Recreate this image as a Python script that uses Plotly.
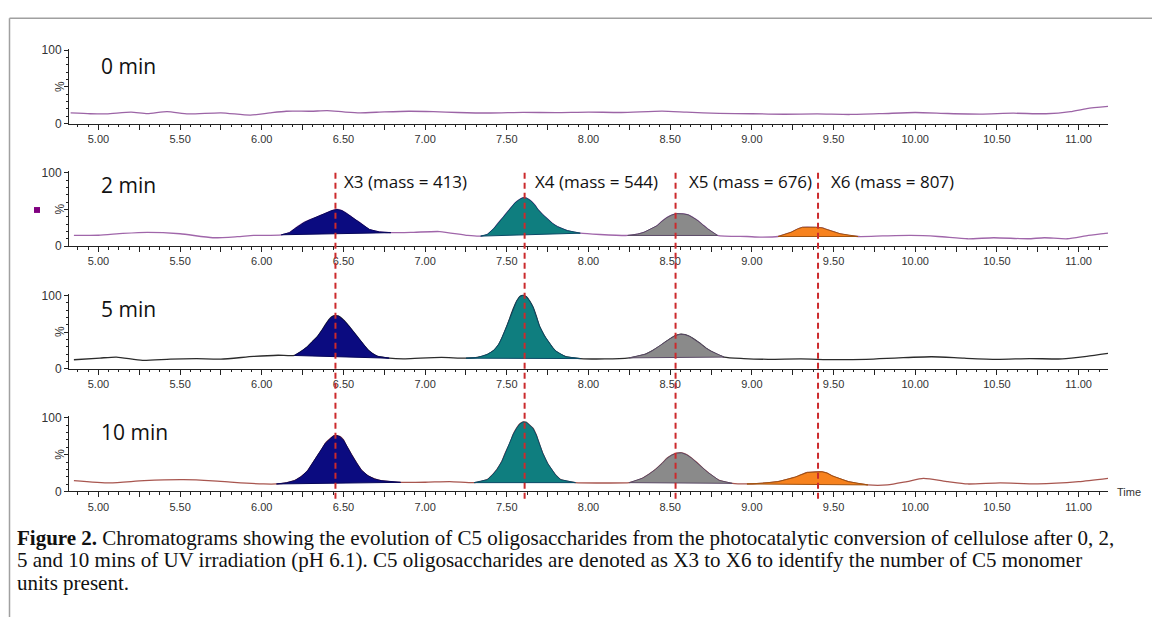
import numpy as np
import plotly.graph_objects as go

W, H = 1152, 624

# ---------------- data ----------------
panel_labels = ["0 min", "2 min", "5 min", "10 min"]
line_colors = ["#9c64a6", "#a066aa", "#2b2b2b", "#a8564f"]

t0 = [4.83, 4.95, 5.05, 5.2, 5.3, 5.42, 5.55, 5.75, 5.93, 6.05, 6.15, 6.3, 6.4, 6.5, 6.6,
      6.75, 6.9, 7.05, 7.2, 7.4, 7.6, 7.8, 8.0, 8.2, 8.45, 8.6, 8.8, 9.0, 9.2, 9.4, 9.6,
      9.8, 10.0, 10.2, 10.4, 10.6, 10.8, 10.95, 11.05, 11.18]
v0 = [14.7, 13.5, 13.3, 15.6, 13.7, 16.4, 13.3, 14.7, 11.6, 14.7, 16.9, 16.9, 17.7, 16.0, 14.7,
      16.0, 16.9, 16.4, 15.2, 14.5, 15.4, 15.0, 15.8, 15.2, 17.0, 15.6, 14.0, 13.5, 12.8, 13.2, 12.5,
      13.7, 15.2, 13.8, 13.0, 14.2, 13.5, 16.4, 20.5, 23.5]

t2 = [4.85, 5.0, 5.15, 5.3, 5.5, 5.7, 5.85, 5.95, 6.12, 6.17, 6.2, 6.26, 6.3, 6.34, 6.4, 6.43,
      6.46, 6.49, 6.52, 6.54, 6.57, 6.6, 6.63, 6.66, 6.72, 6.79, 6.93, 7.09, 7.26, 7.34, 7.38,
      7.42, 7.45, 7.48, 7.50, 7.53, 7.55, 7.58, 7.60, 7.62, 7.645, 7.67, 7.69, 7.72, 7.75,
      7.78, 7.81, 7.87, 7.95, 8.07, 8.24, 8.3, 8.34, 8.38, 8.42, 8.45, 8.48, 8.51, 8.54, 8.58,
      8.61, 8.64, 8.67, 8.70, 8.73, 8.79, 8.97, 9.05, 9.16, 9.2, 9.24, 9.28, 9.31, 9.39, 9.43,
      9.46, 9.5, 9.54, 9.65, 9.8, 9.97, 10.14, 10.32, 10.48, 10.69, 10.79, 10.93, 11.06, 11.18]
v2 = [14.7, 15.0, 17.5, 19.0, 17.0, 11.6, 13.0, 14.7, 15.6, 18.5, 23.6, 32.4, 36.5, 40.0, 45.8, 48.5,
      50.0, 48.5, 44.5, 41.3, 36.5, 32.4, 27.0, 22.7, 19.5, 18.5, 19.0, 20.0, 14.7, 13.8, 16.0,
      24.0, 32.4, 40.0, 45.8, 53.5, 59.0, 64.0, 66.0, 65.5, 62.2, 56.5, 50.2, 43.0, 37.0,
      31.0, 26.7, 21.3, 17.8, 16.0, 14.7, 16.5, 19.0, 23.0, 28.0, 34.0, 39.0, 42.5, 44.4, 44.0,
      42.7, 39.0, 34.7, 29.0, 23.6, 14.7, 13.3, 12.4, 13.3, 16.0, 19.0, 23.5, 25.8, 25.8, 25.0,
      22.7, 20.0, 17.0, 13.3, 14.0, 14.7, 13.3, 10.2, 11.6, 10.2, 11.6, 10.2, 14.7, 17.8]

t5 = [4.85, 5.01, 5.11, 5.27, 5.44, 5.6, 5.75, 5.95, 6.1, 6.2, 6.24, 6.28, 6.31, 6.34, 6.37,
      6.39, 6.41, 6.43, 6.45, 6.47, 6.50, 6.53, 6.56, 6.59, 6.62, 6.65, 6.68, 6.71, 6.78, 6.87,
      6.97, 7.1, 7.25, 7.32, 7.38, 7.42, 7.45, 7.47, 7.50, 7.52, 7.54, 7.56, 7.58, 7.60, 7.62,
      7.64, 7.66, 7.68, 7.70, 7.73, 7.75, 7.78, 7.80, 7.86, 7.95, 8.1, 8.25, 8.3, 8.35, 8.39,
      8.43, 8.47, 8.5, 8.53, 8.56, 8.59, 8.62, 8.65, 8.68, 8.72, 8.75, 8.83, 8.95, 9.1, 9.3,
      9.5, 9.7, 9.9, 10.1, 10.3, 10.5, 10.7, 10.9, 11.05, 11.18]
v5 = [12.4, 14.7, 16.0, 11.6, 13.3, 13.8, 13.3, 16.9, 18.5, 18.2, 23.5, 30.2, 37.0, 43.6, 53.0,
      60.0, 66.5, 71.0, 72.5, 71.6, 66.5, 59.0, 50.5, 42.2, 33.5, 25.8, 20.5, 16.9, 14.5, 13.7,
      14.7, 15.5, 14.5, 15.5, 19.5, 25.0, 33.0, 42.0, 58.0, 70.0, 82.0, 92.0, 98.5, 100.0, 98.0,
      92.0, 84.0, 72.0, 58.0, 45.0, 38.0, 29.0, 24.0, 16.5, 14.0, 13.5, 15.0, 17.0, 20.0, 24.5,
      30.0, 36.5, 41.0, 45.0, 47.0, 46.5, 44.0, 40.0, 35.0, 28.0, 24.0, 16.0, 14.0, 13.0, 13.5,
      12.5, 13.0, 15.0, 16.5, 14.5, 13.0, 14.0, 13.5, 17.0, 21.0]

t10 = [4.85, 5.07, 5.28, 5.52, 5.7, 5.83, 6.01, 6.09, 6.15, 6.2, 6.24, 6.28, 6.31, 6.34, 6.37,
       6.39, 6.42, 6.44, 6.46, 6.48, 6.50, 6.52, 6.55, 6.58, 6.61, 6.65, 6.69, 6.73, 6.85, 7.0,
       7.15, 7.3, 7.34, 7.38, 7.41, 7.44, 7.47, 7.49, 7.52, 7.54, 7.56, 7.58, 7.60, 7.62, 7.64,
       7.66, 7.68, 7.70, 7.72, 7.75, 7.77, 7.80, 7.83, 7.92, 8.1, 8.25, 8.29, 8.33, 8.37, 8.41,
       8.45, 8.48, 8.51, 8.54, 8.57, 8.6, 8.63, 8.66, 8.7, 8.73, 8.8, 8.88, 8.97, 9.05, 9.16,
       9.21, 9.26, 9.3, 9.34, 9.43, 9.46, 9.49, 9.54, 9.59, 9.71, 9.83, 9.95, 10.05, 10.2,
       10.32, 10.52, 10.75, 11.0, 11.18]
v10 = [14.7, 11.6, 14.7, 16.0, 14.5, 12.4, 10.2, 10.2, 11.8, 14.7, 20.0, 28.0, 38.0, 48.0, 58.0,
       65.8, 72.0, 75.6, 76.0, 74.5, 70.0, 61.3, 50.0, 39.0, 29.0, 21.3, 17.0, 14.7, 12.4, 12.5,
       13.5, 12.0, 13.5, 16.0, 22.0, 30.0, 41.0, 52.0, 66.0, 78.0, 86.0, 92.0, 94.5, 94.0, 90.0,
       86.0, 77.0, 64.0, 52.0, 38.0, 31.0, 22.0, 16.0, 12.0, 11.5, 12.0, 14.5, 18.0, 23.5, 30.0,
       38.0, 45.0, 49.5, 52.0, 52.5, 50.0, 45.5, 40.0, 31.5, 26.0, 15.0, 11.0, 10.2, 11.0, 13.3,
       16.0, 19.0, 22.5, 25.8, 26.7, 25.0, 21.3, 17.0, 13.3, 8.9, 8.9, 13.5, 17.8, 13.3,
       10.2, 11.6, 10.2, 13.3, 17.8]

times = [t0, t2, t5, t10]
vals = [v0, v2, v5, v10]

peak_names = ["X3", "X4", "X5", "X6"]
peak_masses = [413, 544, 676, 807]
peak_marks = [6.451, 7.609, 8.533, 9.405]
peak_fill = ["#0b0b80", "#0f7e7f", "#8a8a8a", "#f7821e"]
peak_edge = ["#06065a", "#0b4a66", "#5a4a66", "#a0520f"]
# integration windows (start, end) for each panel and peak
windows = [
    [None, None, None, None],
    [(6.12, 6.79), (7.34, 7.95), (8.24, 8.79), (9.16, 9.65)],
    [(6.2, 6.78), (7.25, 7.95), (8.25, 8.83), None],
    [(6.09, 6.85), (7.3, 7.92), (8.25, 8.88), (8.97, 9.71)],
]

x_tick_major = np.round(np.arange(4.75, 11.26, 0.25), 2)
x_range = [4.82, 11.18]
y_range = [0, 102]

caption_lines = [
    "<b>Figure 2.</b> Chromatograms showing the evolution of C5 oligosaccharides from the "
    "photocatalytic conversion of cellulose after 0, 2,",
    "5 and 10 mins of UV irradiation (pH 6.1). C5 oligosaccharides are denoted as X3 to X6 "
    "to identify the number of C5 monomer",
    "units present.",
]

# ---------------- layout helpers ----------------
def px_x(p):
    return p / W

def px_y(p):
    return 1 - p / H

zero_px = [121, 246, 371, 496]
plot_h = 75 * (y_range[1] / 100.0)

fig = go.Figure()

for i in range(4):
    xa = "x" if i == 0 else f"x{i+1}"
    ya = "y" if i == 0 else f"y{i+1}"
    fig.add_trace(go.Scatter(x=times[i], y=vals[i], mode="lines",
                             line=dict(color=line_colors[i], width=1.3, shape="spline",
                                       smoothing=0.6),
                             xaxis=xa, yaxis=ya, showlegend=False, hoverinfo="skip"))
    for k in range(4):
        w = windows[i][k]
        if w is None:
            continue
        sel = [(t, v) for t, v in zip(times[i], vals[i]) if w[0] - 1e-9 <= t <= w[1] + 1e-9]
        px_ = [s[0] for s in sel] + [sel[0][0]]
        py_ = [s[1] for s in sel] + [sel[0][1]]
        fig.add_trace(go.Scatter(x=px_, y=py_, mode="lines", fill="toself",
                                 fillcolor=peak_fill[k],
                                 line=dict(color=peak_edge[k], width=1),
                                 xaxis=xa, yaxis=ya, showlegend=False, hoverinfo="skip"))

tick_font = dict(family="Liberation Sans, Arial", size=11, color="#333333")
layout = dict(
    width=W, height=H, margin=dict(l=0, r=0, t=0, b=0), autosize=False,
    paper_bgcolor="white", plot_bgcolor="white", showlegend=False,
)
for i in range(4):
    sx = "" if i == 0 else str(i + 1)
    b = px_y(zero_px[i])
    t = px_y(zero_px[i] - plot_h)
    ticktext = [f"{v:.2f}" if abs(v * 2 - round(v * 2)) < 1e-9 else "" for v in x_tick_major]
    layout["xaxis" + sx] = dict(
        domain=[px_x(69), px_x(1108)], range=x_range, anchor="y" + sx,
        showline=True, linecolor="#222222", linewidth=1,
        ticks="outside", ticklen=5, tickwidth=1, tickcolor="#222222",
        tickmode="array", tickvals=list(x_tick_major), ticktext=ticktext,
        tickfont=tick_font, showgrid=False, zeroline=False,
        minor=dict(ticks="outside", ticklen=2.5, tickwidth=1, tickcolor="#222222",
                   dtick=0.0625, tick0=5.0, showgrid=False),
        fixedrange=True,
    )
    layout["yaxis" + sx] = dict(
        domain=[b, t], range=y_range, anchor="x" + sx,
        showline=True, linecolor="#222222", linewidth=1,
        ticks="outside", ticklen=4, tickwidth=1, tickcolor="#222222",
        tickmode="array", tickvals=[0, 50, 100], ticktext=["0", "", "100"],
        tickfont=dict(family="Liberation Sans, Arial", size=12, color="#333333"),
        showgrid=False, zeroline=False,
        minor=dict(ticks="outside", ticklen=2, tickwidth=1, tickcolor="#222222",
                   dtick=10, tick0=0, showgrid=False),
        fixedrange=True,
    )
fig.update_layout(**layout)

annotations = []
shapes = []
label_y_px = [62, 184, 310, 435]
for i in range(4):
    annotations.append(dict(text=panel_labels[i], xref="paper", yref="paper",
                            x=px_x(99), y=px_y(label_y_px[i]), xanchor="left", yanchor="middle",
                            showarrow=False,
                            font=dict(family="Open Sans, Noto Sans", size=21, color="#111111")))
    annotations.append(dict(text="%", xref="paper", yref="paper", textangle=-90,
                            x=px_x(60), y=px_y(zero_px[i] - 37.5), xanchor="center", yanchor="middle",
                            showarrow=False,
                            font=dict(family="Liberation Sans, Arial", size=12, color="#333333")))

shift = [7, 8, 11, 11]
for k in range(4):
    annotations.append(dict(text=f"{peak_names[k]} (mass = {peak_masses[k]})",
                            xref="x2", yref="paper", x=peak_marks[k], xshift=shift[k],
                            y=px_y(180), xanchor="left", yanchor="middle", showarrow=False,
                            font=dict(family="Open Sans, Noto Sans", size=17, color="#111111")))
    shapes.append(dict(type="line", xref="x2", yref="paper",
                       x0=peak_marks[k], x1=peak_marks[k], y0=px_y(171), y1=px_y(504),
                       line=dict(color="#cc2a2c", width=2, dash="6px,4px")))

annotations.append(dict(text="Time", xref="paper", yref="paper", x=px_x(1115), y=px_y(497),
                        xanchor="left", yanchor="middle", showarrow=False,
                        font=dict(family="Liberation Sans, Arial", size=11, color="#333333")))

cap_y = [543, 566, 589]
for line, yy in zip(caption_lines, cap_y):
    annotations.append(dict(text=line, xref="paper", yref="paper", x=px_x(15), y=px_y(yy),
                            xanchor="left", yanchor="middle", align="left", showarrow=False,
                            font=dict(family="Liberation Serif, Times New Roman", size=21,
                                      color="#111111")))

# purple legend square (panel 2)
shapes.append(dict(type="rect", xref="paper", yref="paper",
                   x0=px_x(34), x1=px_x(40), y0=px_y(212), y1=px_y(206),
                   fillcolor="#800080", line=dict(width=0)))
# frame lines
shapes.append(dict(type="line", xref="paper", yref="paper", x0=px_x(9.5), x1=px_x(9.5),
                   y0=px_y(13.5), y1=0, line=dict(color="#a0a0a0", width=1.5)))
shapes.append(dict(type="line", xref="paper", yref="paper", x0=px_x(9.5), x1=1,
                   y0=px_y(13.5), y1=px_y(13.5), line=dict(color="#a0a0a0", width=1.5)))

fig.update_layout(annotations=annotations, shapes=shapes)
fig.write_html("out.html", config={"displayModeBar": False},
               post_script="document.body.style.margin='0';document.body.style.overflow='hidden';")
